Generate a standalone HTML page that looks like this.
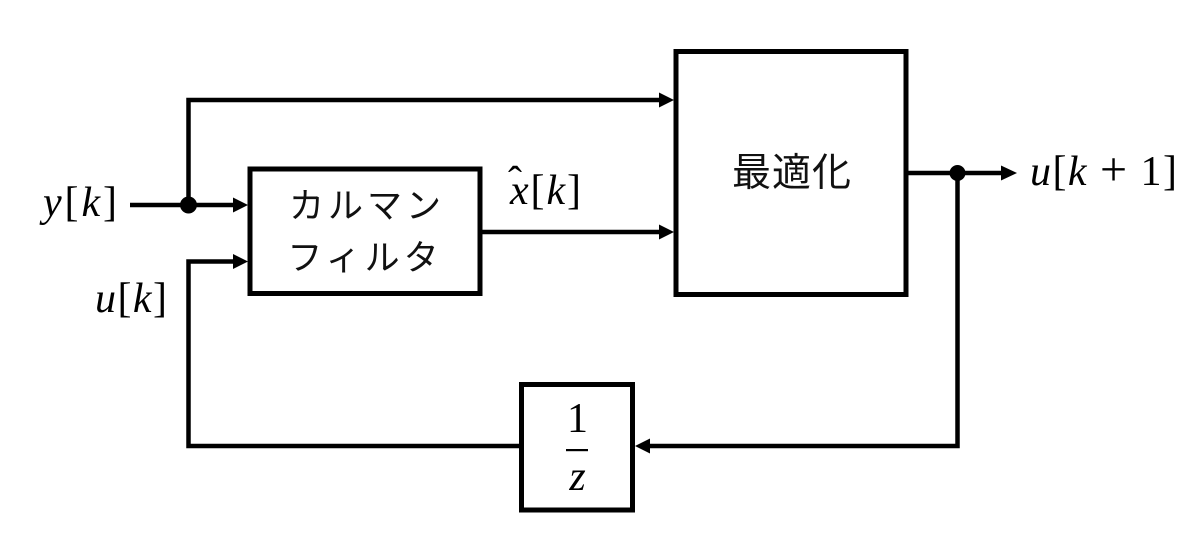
<!DOCTYPE html>
<html>
<head>
<meta charset="utf-8">
<style>
  html, body { margin:0; padding:0; background:#fff; }
  body { width:1200px; height:560px; overflow:hidden; }
  svg { display:block; }
  .m { font-family: "Liberation Serif", serif; font-size: 42px; fill:#000; }
  .i { font-style: italic; }
  .jp { font-family: "Liberation Sans", "Noto Sans CJK JP", sans-serif; fill:#111; }
</style>
</head>
<body>
<svg width="1200" height="560" viewBox="0 0 1200 560" xmlns="http://www.w3.org/2000/svg">
  <g fill="none" stroke="#000" stroke-width="5">
    <rect x="250" y="169" width="230" height="124.5"/>
    <rect x="676" y="51.5" width="230" height="243"/>
    <rect x="521.5" y="384.5" width="111" height="125.5"/>
  </g>
  <g fill="none" stroke="#000" stroke-width="4.5" stroke-linejoin="miter" stroke-linecap="butt">
    <line x1="130" y1="205" x2="236" y2="205"/>
    <polyline points="188.5,205 188.5,100 662,100"/>
    <line x1="480" y1="232" x2="662" y2="232"/>
    <line x1="906" y1="173" x2="1003" y2="173"/>
    <polyline points="957.5,173 957.5,446 648,446"/>
    <polyline points="521,446 188.5,446 188.5,261.5 236,261.5"/>
  </g>
  <g fill="#000">
    <polygon points="233,197.5 248,205 233,212.5"/>
    <polygon points="233,254 248,261.5 233,269"/>
    <polygon points="659,92.5 674,100 659,107.5"/>
    <polygon points="659,224.5 674,232 659,239.5"/>
    <polygon points="1001,165.5 1017,173 1001,180.5"/>
    <polygon points="650,438.5 635,446 650,453.5"/>
    <circle cx="188.5" cy="205" r="8.5"/>
    <circle cx="957.5" cy="173" r="8"/>
  </g>

  <text class="m" x="43" y="216" textLength="74" lengthAdjust="spacing"><tspan class="i">y</tspan>[<tspan class="i">k</tspan>]</text>
  <text class="m" x="95" y="312" textLength="72" lengthAdjust="spacing"><tspan class="i">u</tspan>[<tspan class="i">k</tspan>]</text>
  <text class="m" x="510" y="204" textLength="71" lengthAdjust="spacing"><tspan class="i">x</tspan>[<tspan class="i">k</tspan>]</text>
  <text class="m" x="508" y="195" font-size="40">ˆ</text>
  <text class="m" x="1030" y="185" textLength="147" lengthAdjust="spacing"><tspan class="i">u</tspan>[<tspan class="i">k</tspan> <tspan font-size="48">+</tspan> 1]</text>

  <text class="jp" x="367" y="218" font-size="35" letter-spacing="4" text-anchor="middle">カルマン</text>
  <text class="jp" x="365" y="270" font-size="35" letter-spacing="4" text-anchor="middle">フィルタ</text>

  <text class="jp" x="792" y="186" font-size="39" letter-spacing="1" text-anchor="middle">最適化</text>

  <text class="m" x="577.5" y="432" font-size="42" text-anchor="middle">1</text>
  <rect x="566" y="449" width="22" height="2.2" fill="#000"/>
  <text class="m i" x="577.5" y="490" font-size="46" text-anchor="middle">z</text>
</svg>
</body>
</html>
